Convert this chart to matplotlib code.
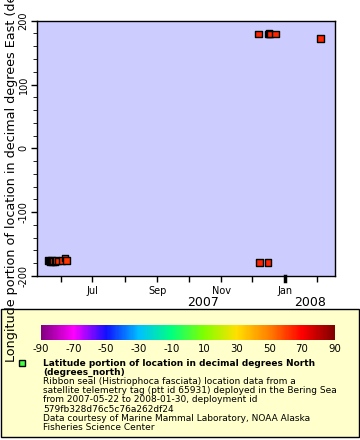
import matplotlib
matplotlib.use('Agg')
import matplotlib.pyplot as plt
import matplotlib.dates as mdates
from matplotlib.colors import LinearSegmentedColormap, Normalize
from matplotlib.patches import Rectangle
import numpy as np
import datetime as dt

plt.rcParams['axes.unicode_minus'] = False

# data
times = ['2007-05-20', '2007-05-21', '2007-05-22', '2007-05-23', '2007-05-24',
         '2007-05-25', '2007-05-26', '2007-05-27', '2007-05-29', '2007-06-02',
         '2007-06-05', '2007-06-06',
         '2007-12-07', '2007-12-08', '2007-12-16', '2007-12-16', '2007-12-17',
         '2007-12-18', '2007-12-23', '2008-02-04']
lon = [-176.0, -176.5, -177.5, -176.0, -177.0,
       -176.5, -178.0, -176.0, -176.5, -175.5,
       -172.0, -175.5,
       179.2, -179.0, -179.0, 179.5, 179.6,
       179.4, 179.5, 172.0]
lat = [62.5, 62.5, 62.6, 62.4, 62.5,
       62.5, 62.6, 62.4, 62.5, 62.0,
       61.5, 61.8,
       64.0, 64.0, 64.2, 64.2, 64.1,
       64.2, 64.0, 63.5]

cbar_ticks = [-90, -70, -50, -30, -10, 10, 30, 50, 70, 90]
rainbow = ['#800080', '#ff00ff', '#1010ff', '#00bfff', '#00ff80',
           '#80ff00', '#ffe000', '#ff8000', '#ff0000', '#800000']

legend_lines = ['Ribbon seal (Histriophoca fasciata) location data from a',
                'satellite telemetry tag (ptt id 65931) deployed in the Bering Sea',
                'from 2007-05-22 to 2008-01-30, deployment id',
                '579fb328d76c5c76a262df24',
                'Data courtesy of Marine Mammal Laboratory, NOAA Alaska',
                'Fisheries Science Center']

cmap = LinearSegmentedColormap.from_list('erd', list(zip(np.linspace(0, 1, len(rainbow)), rainbow)))
norm = Normalize(-90, 90)

W, H = 360, 440
fig = plt.figure(figsize=(3.6, 4.4), dpi=100)
fig.patch.set_facecolor('white')

# legend box (behind everything)
fig.patches.append(Rectangle((0.5 / W, 1 - 437 / H), 358.5 / W, 128 / H, transform=fig.transFigure,
                             facecolor='#ffffcc', edgecolor='black', linewidth=1, zorder=-5))

ax = fig.add_axes([37 / W, 1 - 276 / H, 298 / W, 255.3 / H])
ax.set_facecolor('#ccccff')
x = mdates.date2num([dt.datetime.strptime(t, '%Y-%m-%d') for t in times])
ax.scatter(x, lon, c=lat, cmap=cmap, norm=norm, marker='s', s=22,
           edgecolors='black', linewidths=1.0, zorder=3)
ax.set_ylim(-200, 200)
ax.set_xlim(mdates.date2num(dt.datetime(2007, 5, 9)), mdates.date2num(dt.datetime(2008, 2, 18)))

ax.set_yticks([-200, -100, 0, 100, 200])
ax.set_yticks(np.arange(-200, 201, 20), minor=True)
for lab in ax.get_yticklabels():
    lab.set_rotation(90)
    lab.set_va('center')
ax.tick_params(axis='y', labelsize=7, length=4, width=1, direction='out', pad=2)
ax.tick_params(axis='y', which='minor', length=3)

ax.xaxis.set_major_locator(mdates.MonthLocator(bymonth=[7, 9, 11, 1]))
ax.xaxis.set_major_formatter(mdates.DateFormatter('%b'))
ax.xaxis.set_minor_locator(mdates.MonthLocator())
ax.tick_params(axis='x', labelsize=7, length=4, width=1, direction='out', pad=3)
ax.tick_params(axis='x', which='minor', length=4, width=1)
for sp in ax.spines.values():
    sp.set_linewidth(1)

# year boundary tick
ax.plot([mdates.date2num(dt.datetime(2008, 1, 1))] * 2, [-200, -208], color='black',
        lw=2.5, clip_on=False, zorder=4)

fig.text(203 / W, 1 - 302 / H, '2007', fontsize=9, ha='center', va='center')
fig.text(310 / W, 1 - 302 / H, '2008', fontsize=9, ha='center', va='center')

fig.text(12 / W, 1 - 362 / H, 'Longitude portion of location in decimal degrees East (degrees_east)',
         fontsize=9.2, rotation=90, ha='center', va='bottom', zorder=10)

cax = fig.add_axes([40.7 / W, 1 - 340 / H, 294 / W, 15 / H])
cb = fig.colorbar(plt.cm.ScalarMappable(norm=norm, cmap=cmap), cax=cax, orientation='horizontal')
cb.set_ticks(cbar_ticks)
cb.outline.set_visible(False)
cax.tick_params(labelsize=7.3, length=0, pad=3)

fig.add_artist(Rectangle((19 / W, 1 - 366 / H), 6 / W, 6 / H, transform=fig.transFigure,
                         facecolor='#44ff44', edgecolor='black', linewidth=1))
fig.text(43 / W, 1 - 363 / H, 'Latitude portion of location in decimal degrees North',
         fontsize=6.5, fontweight='bold', va='center')
fig.text(43 / W, 1 - 372 / H, '(degrees_north)', fontsize=6.5, fontweight='bold', va='center')
for i, line in enumerate(legend_lines):
    fig.text(43 / W, 1 - (381.7 + i * 9.1) / H, line, fontsize=6.5, va='center')

fig.savefig('out.png', dpi=100)
